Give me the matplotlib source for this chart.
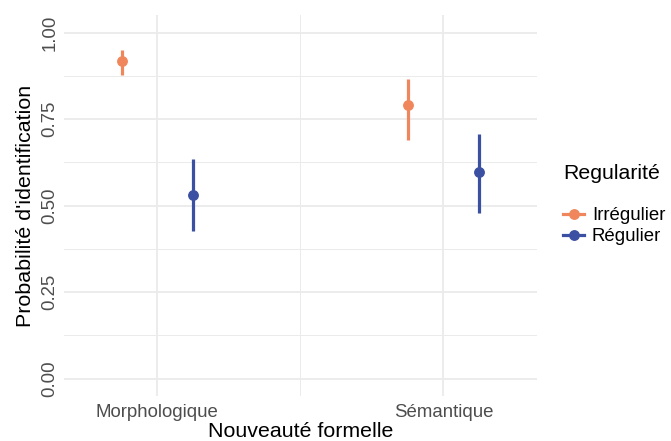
import numpy as np
import matplotlib.pyplot as plt
from matplotlib.lines import Line2D

plt.rcParams['font.family'] = ['Liberation Sans', 'DejaVu Sans']

# Estimated identification probabilities with intervals
categories = ['Morphologique', 'Sémantique']
groups = ['Irrégulier', 'Régulier']
colors = ['#F0875C', '#3B50A2']
estimates = {'Irrégulier': [0.918, 0.790], 'Régulier': [0.531, 0.598]}
lower = {'Irrégulier': [0.877, 0.689], 'Régulier': [0.427, 0.480]}
upper = {'Irrégulier': [0.951, 0.865], 'Régulier': [0.634, 0.707]}

dodge = [-0.125, 0.125]

fig = plt.figure(figsize=(6.71, 4.41), dpi=100)
ax = fig.add_axes([0.0954, 0.102, 0.7044, 0.863])

x = np.arange(1, len(categories) + 1)
for g, col, off in zip(groups, colors, dodge):
    xs = x + off
    ax.vlines(xs, lower[g], upper[g], color=col, lw=2.3, zorder=3)
    ax.plot(xs, estimates[g], 'o', color=col, ms=6.8, zorder=4)

ax.set_xlim(0.674, 2.326)
ax.set_ylim(-0.05, 1.05)
ax.set_xticks(x)
ax.set_xticklabels(categories)
ax.set_yticks([0, 0.25, 0.5, 0.75, 1.0])
ax.set_yticklabels(['0.00', '0.25', '0.50', '0.75', '1.00'], rotation=90, va='center')
ax.set_xticks([1.5], minor=True)
ax.set_yticks([0.125, 0.375, 0.625, 0.875], minor=True)

ax.grid(True, which='major', color='#EBEBEB', lw=1.3)
ax.grid(True, which='minor', color='#EBEBEB', lw=0.7)
ax.set_axisbelow(True)
for s in ax.spines.values():
    s.set_visible(False)
ax.tick_params(which='both', length=0)
ax.tick_params(axis='both', labelsize=13.4, labelcolor='#4D4D4D')
ax.tick_params(axis='x', pad=6)
ax.tick_params(axis='y', pad=4)

ax.set_xlabel('Nouveauté formelle', fontsize=15.4, labelpad=0.5)
ax.set_ylabel("Probabilité d'identification", fontsize=15.4, labelpad=5)

handles = [Line2D([0], [0], color=c, lw=2.3, marker='o', ms=6.8) for c in colors]
leg = fig.legend(handles, groups, title='Regularité', loc='upper left',
                 bbox_to_anchor=(0.839, 0.627), frameon=False, fontsize=13.4,
                 title_fontsize=15.3, handlelength=1.15, handletextpad=0.4,
                 labelspacing=0.22, borderpad=0, borderaxespad=0)
leg._legend_box.align = 'left'
leg._legend_box.sep = 17

fig.savefig('out.png', dpi=100)
